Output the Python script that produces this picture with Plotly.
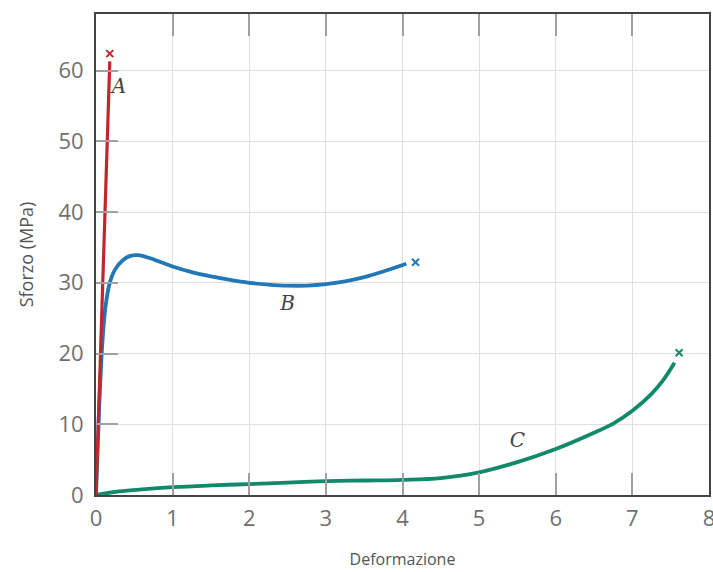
import plotly.graph_objects as go

# Curve A (brittle)
a_x = [0.0, 0.05, 0.10, 0.145, 0.18]
a_y = [0.0, 17.0, 34.0, 50.0, 61.3]
a_break = ([0.18], [62.4])

# Curve B (plastic)
b_x = [0.0, 0.04, 0.08, 0.12, 0.18, 0.25, 0.35, 0.45, 0.55, 0.7, 0.85, 1.0, 1.25, 1.5, 1.75, 2.0, 2.25, 2.5, 2.75, 3.0, 3.25, 3.5, 3.75, 4.05]
b_y = [0.0, 12.0, 21.0, 26.3, 30.0, 31.9, 33.2, 33.8, 33.9, 33.5, 32.9, 32.3, 31.5, 30.9, 30.4, 30.0, 29.75, 29.6, 29.6, 29.8, 30.2, 30.8, 31.6, 32.7]
b_break = ([4.17], [32.9])

# Curve C (elastomer)
c_x = [0.0, 0.3, 0.6, 1.0, 1.5, 2.0, 2.5, 3.0, 3.5, 4.0, 4.5, 5.0, 5.5, 6.0, 6.5, 6.75, 7.0, 7.25, 7.4, 7.55]
c_y = [0.0, 0.5, 0.8, 1.1, 1.35, 1.55, 1.75, 1.95, 2.05, 2.15, 2.4, 3.2, 4.65, 6.5, 8.8, 10.1, 11.9, 14.3, 16.2, 18.7]
c_break = ([7.61], [20.1])

labels = ["A", "B", "C"]
label_x = [0.30, 2.5, 5.5]
label_y = [57.6, 26.9, 7.5]

x_ticks = [0, 1, 2, 3, 4, 5, 6, 7, 8]
y_ticks = [0, 10, 20, 30, 40, 50, 60]

red = "#c0272d"
blue = "#2277b7"
green = "#13896b"

fig = go.Figure()
fig.add_trace(go.Scatter(x=c_x, y=c_y, mode="lines", line=dict(color=green, width=3.8, shape="spline", smoothing=1.0), hoverinfo="skip"))
fig.add_trace(go.Scatter(x=b_x, y=b_y, mode="lines", line=dict(color=blue, width=3.8, shape="spline", smoothing=0.8), hoverinfo="skip"))
fig.add_trace(go.Scatter(x=a_x, y=a_y, mode="lines", line=dict(color=red, width=3.2), hoverinfo="skip"))
for (bx, by), col in [(a_break, red), (b_break, blue), (c_break, green)]:
    fig.add_trace(go.Scatter(x=bx, y=by, mode="markers",
                             marker=dict(symbol="x-thin", size=7, line=dict(color=col, width=2)),
                             hoverinfo="skip"))
fig.add_trace(go.Scatter(x=label_x, y=label_y, mode="text", text=labels,
                         textfont=dict(family="DejaVu Serif", size=20, color="#444444", style="italic"),
                         hoverinfo="skip"))
# invisible trace to carry the top tick axis
fig.add_trace(go.Scatter(x=[0, 8], y=[0, 0], xaxis="x2", mode="markers",
                         marker=dict(opacity=0), hoverinfo="skip"))

tick_font = dict(family="Open Sans", size=22, color="#707070")
xtitle_font = dict(family="Open Sans", size=16, color="#555555")
ytitle_font = dict(family="Open Sans", size=18, color="#555555")

fig.update_layout(
    width=713, height=572,
    margin=dict(l=96, r=4, t=14, b=77),
    paper_bgcolor="white", plot_bgcolor="white",
    showlegend=False,
    xaxis=dict(range=[0, 8], tickvals=x_ticks, automargin=False, ticklabeloverflow="allow",
               showgrid=True, gridcolor="#e0e0e0", gridwidth=1.2,
               showline=True, linecolor="#444444", linewidth=2, mirror=True,
               ticks="inside", ticklen=22, tickcolor="#a0a0a0", tickwidth=2,
               zeroline=False, tickfont=tick_font, ticklabelstandoff=3,
               title=dict(text="Deformazione", font=xtitle_font, standoff=22)),
    xaxis2=dict(range=[0, 8], tickvals=x_ticks, overlaying="x", side="top",
                showticklabels=False, showgrid=False, showline=False, zeroline=False,
                ticks="inside", ticklen=22, tickcolor="#a0a0a0", tickwidth=2, automargin=False),
    yaxis=dict(range=[0, 68], tickvals=y_ticks, automargin=False,
               showgrid=True, gridcolor="#e0e0e0", gridwidth=1.2,
               showline=True, linecolor="#444444", linewidth=2, mirror=True,
               ticks="inside", ticklen=22, tickcolor="#a0a0a0", tickwidth=2,
               zeroline=False, tickfont=tick_font, ticklabelstandoff=6,
               title=dict(text="Sforzo (MPa)", font=ytitle_font, standoff=20)),
)

fig.write_html("out.html", config={"displayModeBar": False},
               post_script="document.body.style.margin='0';document.body.style.overflow='hidden';")
